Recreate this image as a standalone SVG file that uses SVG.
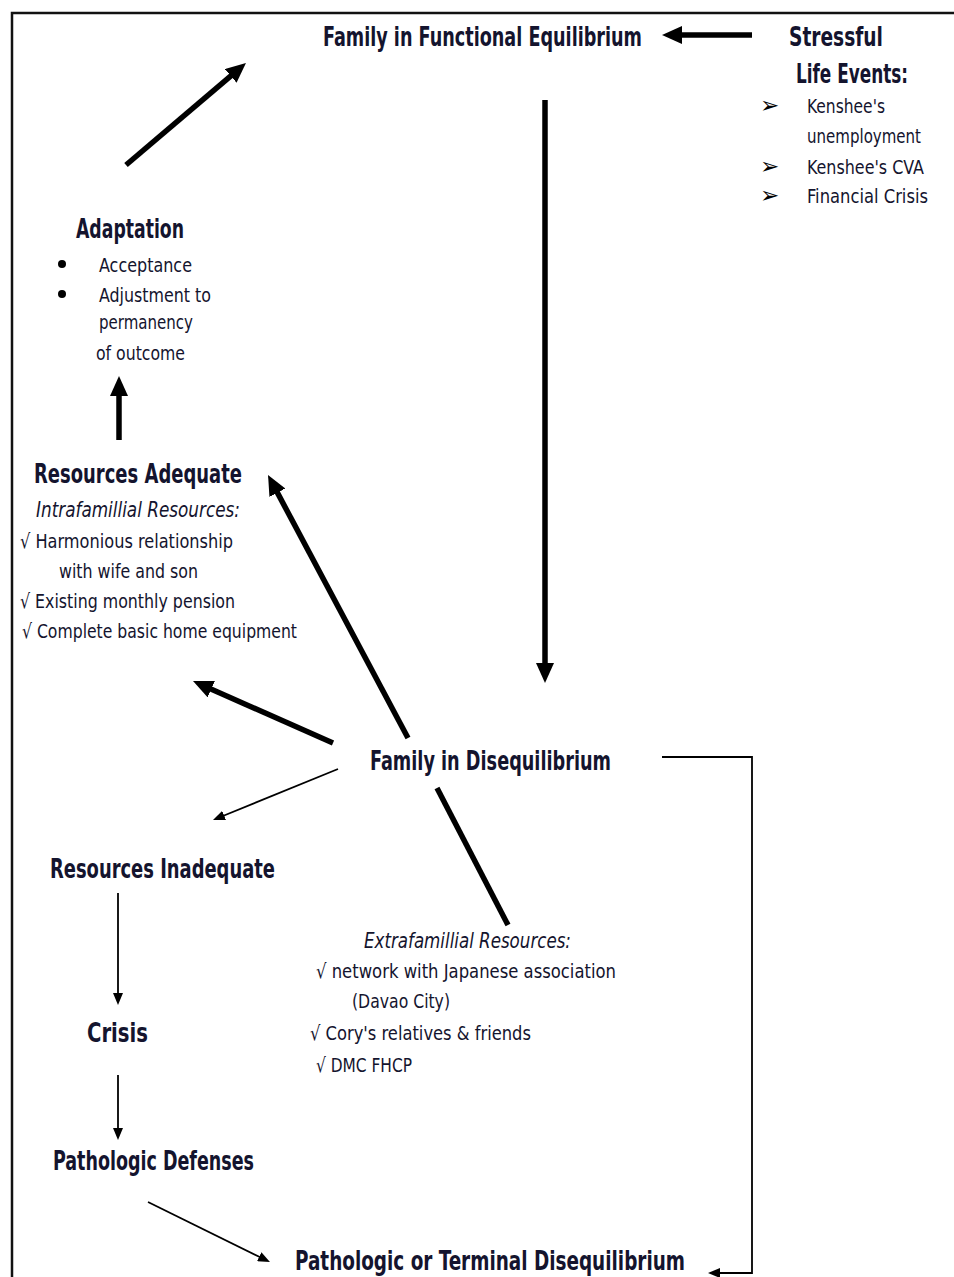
<svg xmlns="http://www.w3.org/2000/svg" width="954" height="1277" viewBox="0 0 954 1277">
<style>
  text { font-family: "Liberation Sans Narrow", "DejaVu Sans Condensed", "Liberation Sans", sans-serif; fill: #14142e; }
  .h { font-weight: bold; font-size: 27px; }
  .r { font-size: 20px; }
  .i { font-size: 22px; font-style: italic; }
  .sym { font-family: "DejaVu Sans", sans-serif; font-size: 23px; font-weight: bold; fill: #000; }
  .thick { stroke: #000; stroke-width: 5.5; fill: none; marker-end: url(#hk); }
  .thin { stroke: #000; stroke-width: 1.8; fill: none; marker-end: url(#hn); }
  .frame { stroke: #111; stroke-width: 2.5; fill: none; }
</style>
<defs>
  <marker id="hk" markerUnits="userSpaceOnUse" markerWidth="20" markerHeight="18" refX="6" refY="9" orient="auto">
    <path d="M0,0 L20,9 L0,18 z" fill="#000"/>
  </marker>
  <marker id="hn" markerUnits="userSpaceOnUse" markerWidth="12" markerHeight="10" refX="4" refY="5" orient="auto">
    <path d="M0,0 L12,5 L0,10 z" fill="#000"/>
  </marker>
</defs>
<rect width="954" height="1277" fill="#fff"/>
<path class="frame" d="M12,1277 L12,13 L954,13"/>

<g id="connectors">
  <line class="thick" x1="752" y1="35" x2="676" y2="35"/>
  <line class="thick" x1="126" y1="165" x2="235.3" y2="72.1"/>
  <line class="thick" x1="545" y1="100" x2="545" y2="669"/>
  <line class="thick" x1="119" y1="440" x2="119" y2="390"/>
  <line class="thick" x1="408" y1="738" x2="274.6" y2="487.4"/>
  <line class="thick" x1="333" y1="743" x2="205.8" y2="686.7"/>
  <line stroke="#000" stroke-width="5.5" x1="437" y1="788" x2="508" y2="925"/>
  <line class="thin" x1="338" y1="769" x2="220.4" y2="817"/>
  <line class="thin" x1="118" y1="893" x2="118" y2="997"/>
  <line class="thin" x1="118" y1="1075" x2="118" y2="1132"/>
  <line class="thin" x1="148" y1="1202" x2="262.8" y2="1258.5"/>
  <polyline class="thin" points="662,757 752,757 752,1273 716,1273"/>
</g>

<g id="family-functional">
  <text class="h" x="323" y="46" textLength="319" lengthAdjust="spacingAndGlyphs">Family in Functional Equilibrium</text>
</g>

<g id="stressful-life-events">
  <text class="h" x="789" y="46" textLength="94" lengthAdjust="spacingAndGlyphs">Stressful</text>
  <text class="h" x="796" y="83" font-size="25" textLength="112" lengthAdjust="spacingAndGlyphs">Life Events:</text>
  <text class="sym" x="760" y="113">➢</text>
  <text class="r" x="807" y="113" textLength="78" lengthAdjust="spacingAndGlyphs">Kenshee's</text>
  <text class="r" x="807" y="143" textLength="114" lengthAdjust="spacingAndGlyphs">unemployment</text>
  <text class="sym" x="760" y="174">➢</text>
  <text class="r" x="807" y="174" textLength="117" lengthAdjust="spacingAndGlyphs">Kenshee's CVA</text>
  <text class="sym" x="760" y="203">➢</text>
  <text class="r" x="807" y="203" textLength="121" lengthAdjust="spacingAndGlyphs">Financial Crisis</text>
</g>

<g id="adaptation">
  <text class="h" x="76" y="238" textLength="108" lengthAdjust="spacingAndGlyphs">Adaptation</text>
  <circle cx="62" cy="264" r="4" fill="#000"/>
  <text class="r" x="99" y="272" textLength="93" lengthAdjust="spacingAndGlyphs">Acceptance</text>
  <circle cx="62" cy="294" r="4" fill="#000"/>
  <text class="r" x="99" y="302" textLength="112" lengthAdjust="spacingAndGlyphs">Adjustment to</text>
  <text class="r" x="99" y="329" textLength="94" lengthAdjust="spacingAndGlyphs">permanency</text>
  <text class="r" x="96" y="360" textLength="89" lengthAdjust="spacingAndGlyphs">of outcome</text>
</g>

<g id="resources-adequate">
  <text class="h" x="34" y="483" textLength="208" lengthAdjust="spacingAndGlyphs">Resources Adequate</text>
  <text class="i" x="36" y="517" textLength="204" lengthAdjust="spacingAndGlyphs">Intrafamillial Resources:</text>
  <text class="r" x="20" y="548" textLength="213" lengthAdjust="spacingAndGlyphs">√ Harmonious relationship</text>
  <text class="r" x="59" y="578" textLength="139" lengthAdjust="spacingAndGlyphs">with wife and son</text>
  <text class="r" x="20" y="608" textLength="215" lengthAdjust="spacingAndGlyphs">√ Existing monthly pension</text>
  <text class="r" x="22" y="638" textLength="275" lengthAdjust="spacingAndGlyphs">√ Complete basic home equipment</text>
</g>

<g id="family-disequilibrium">
  <text class="h" x="370" y="770" textLength="241" lengthAdjust="spacingAndGlyphs">Family in Disequilibrium</text>
</g>

<g id="resources-inadequate">
  <text class="h" x="50" y="878" textLength="225" lengthAdjust="spacingAndGlyphs">Resources Inadequate</text>
</g>

<g id="extrafamilial-resources">
  <text class="i" x="364" y="948" textLength="207" lengthAdjust="spacingAndGlyphs">Extrafamillial Resources:</text>
  <text class="r" x="316" y="978" textLength="300" lengthAdjust="spacingAndGlyphs">√ network with Japanese association</text>
  <text class="r" x="352" y="1008" textLength="98" lengthAdjust="spacingAndGlyphs">(Davao City)</text>
  <text class="r" x="310" y="1040" textLength="221" lengthAdjust="spacingAndGlyphs">√ Cory's relatives &amp; friends</text>
  <text class="r" x="316" y="1072" textLength="96" lengthAdjust="spacingAndGlyphs">√ DMC FHCP</text>
</g>

<g id="crisis">
  <text class="h" x="87" y="1042" textLength="61" lengthAdjust="spacingAndGlyphs">Crisis</text>
</g>

<g id="pathologic-defenses">
  <text class="h" x="53" y="1170" textLength="201" lengthAdjust="spacingAndGlyphs">Pathologic Defenses</text>
</g>

<g id="pathologic-terminal">
  <text class="h" x="295" y="1270" font-size="25" textLength="390" lengthAdjust="spacingAndGlyphs">Pathologic or Terminal  Disequilibrium</text>
</g>
</svg>
